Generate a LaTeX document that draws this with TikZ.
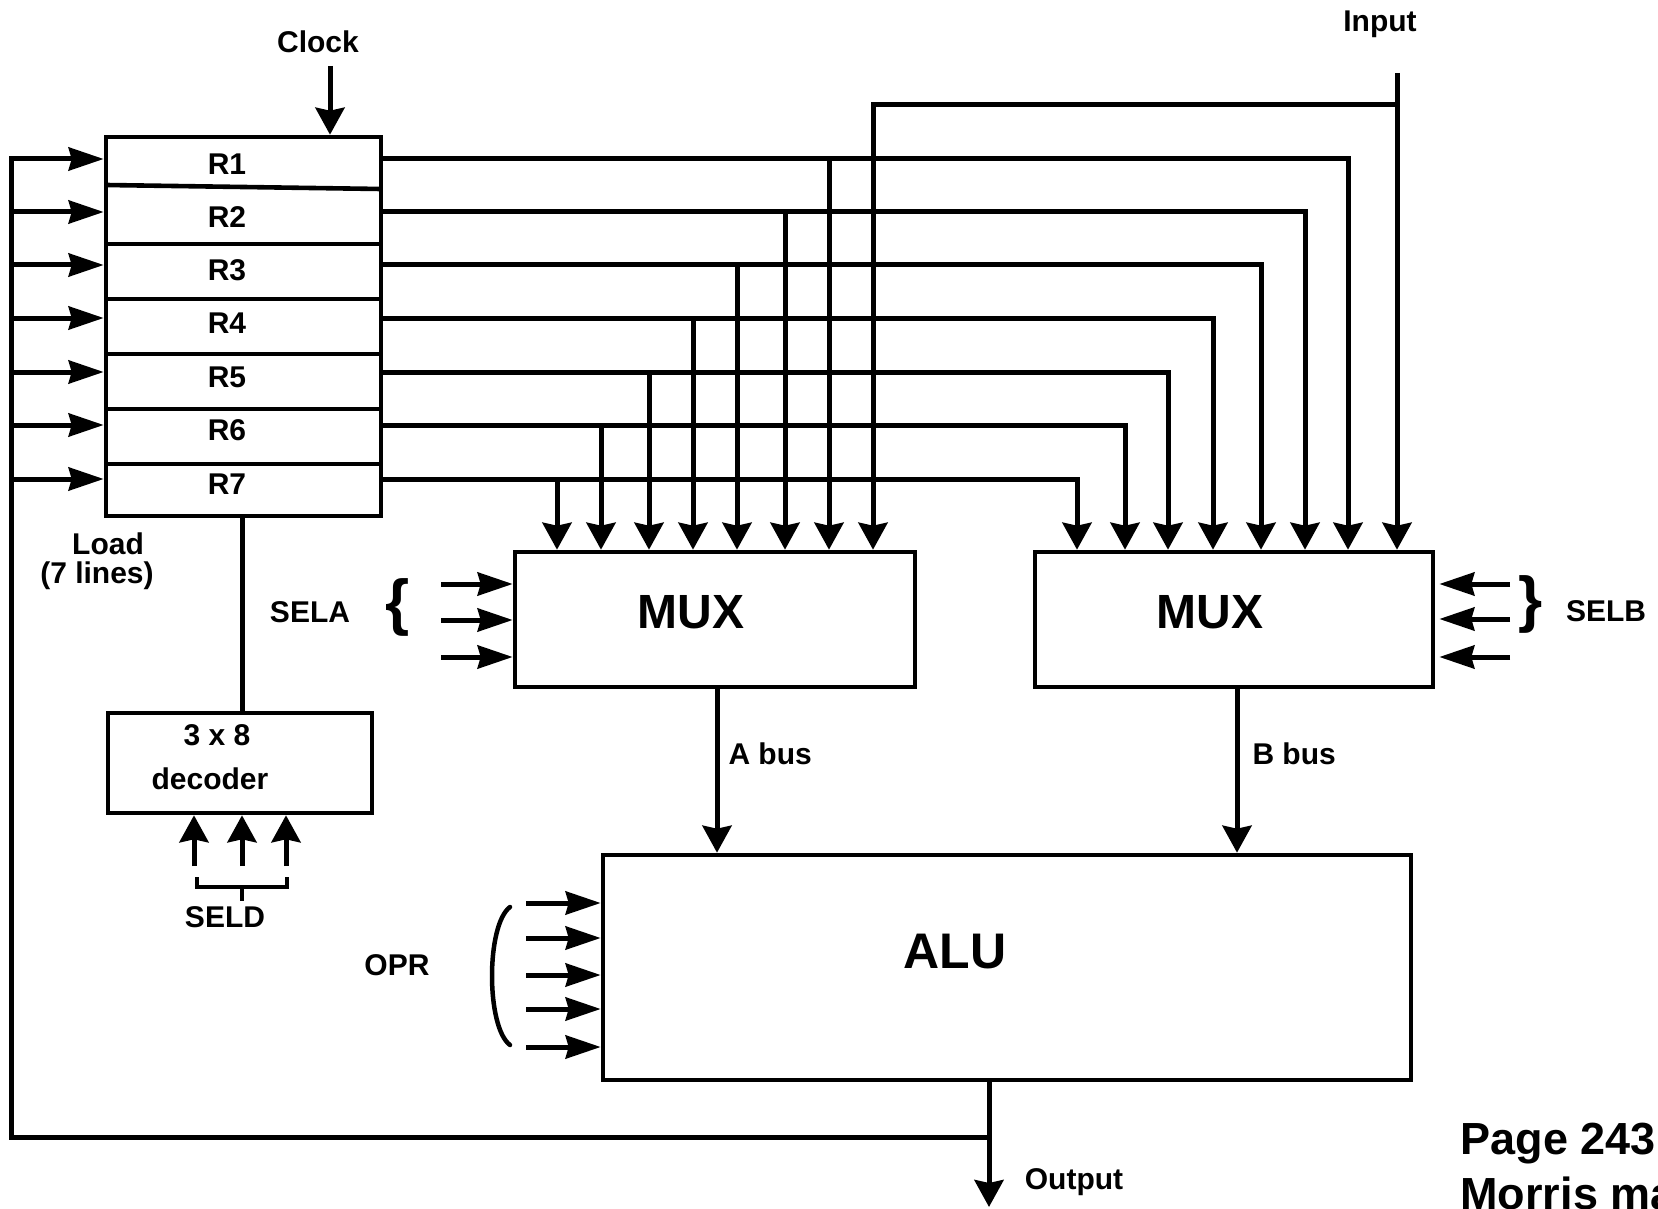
\documentclass[tikz,border=0pt]{standalone}
\usepackage{fontspec}
\setmainfont{Liberation Sans}
\usetikzlibrary{arrows.meta}
\begin{document}
\begin{tikzpicture}[x=1pt,y=-1pt,line width=5pt,
  varr/.style={-{Stealth[length=27pt,width=29pt,inset=3pt]}},
  harr/.style={-{Stealth[length=35pt,width=23pt,inset=3pt]}},
  box/.style={draw,rectangle,line width=4.6pt,inner sep=0pt},
  lbl/.style={font=\fontsize{30}{32}\selectfont\bfseries,inner sep=0pt,align=center},
  big/.style={font=\fontsize{48}{52}\selectfont\bfseries,inner sep=0pt},
  brc/.style={line width=4.5pt}]
\useasboundingbox (0,0) rectangle (1658,1209);
\fill[white] (0,0) rectangle (1658,1209);

% boxes
\node[box,minimum width=275pt,minimum height=379pt] (reg) at (243.5,326.5) {};
\node[box,minimum width=264pt,minimum height=100pt] (dec) at (240,763) {};
\node[box,minimum width=400pt,minimum height=135pt] (muxa) at (715,619.5) {};
\node[box,minimum width=398pt,minimum height=135pt] (muxb) at (1234,619.5) {};
\node[box,minimum width=808pt,minimum height=225pt] (alu) at (1007,967.5) {};

% register separators
\draw[line width=4.6pt] (106,185) -- (381,189);
\foreach \y in {244,299,354,409,464} \draw[line width=4.6pt] (106,\y) -- (381,\y);

% register labels
\foreach \i/\y in {1/159,2/212,3/265,4/318,5/372,6/425,7/479}
  \node[lbl] (rl\i) at (227,\y+5) {R\i};

% box labels
\node[lbl] (dec3) at (217,735) {3 x 8};
\node[lbl] (decl) at (210,779) {decoder};
\node[big] (muxal) at (691,612) {MUX};
\node[big] (muxbl) at (1210,612) {MUX};
\node[font=\fontsize{50}{54}\selectfont\bfseries,inner sep=0pt] (alul) at (955,952) {ALU};

% register outputs to both multiplexers
\foreach \i/\y/\xa/\xb in {1/159/829/1348,2/212/785/1305,3/265/737/1261,4/318/693/1213,5/372/649/1168,6/425/601/1125,7/479/557/1077}{
  \coordinate (ra\i) at (\xa,\y);
  \coordinate (rb\i) at (\xb,\y);
  \draw[varr] (reg.east |- rb\i) -- (rb\i) -- (rb\i |- muxb.north);
  \draw[varr] (ra\i) -- (ra\i |- muxa.north);
}

% input
\coordinate (inp) at (1397,73);
\coordinate (inpj) at (1397,105);
\coordinate (inpa) at (873,105);
\draw[varr] (inp) -- (inp |- muxb.north);
\draw[varr] (inpj) -- (inpa) -- (inpa |- muxa.north);
\node[lbl] (inpl) at (1380,24) {Input};

% clock
\coordinate (clk) at (330,66);
\draw[varr] (clk) -- (clk |- reg.north);
\node[lbl] (clkl) at (318,42) {Clock};

% load lines and feedback
\coordinate (fbtop) at (11,159);
\coordinate (fbcorner) at (11,1137);
\coordinate (outj) at (989,1137);
\coordinate (outend) at (989,1207);
\draw (outj) -- (fbcorner) -- (fbtop);
\foreach \i/\y in {1/159,2/212,3/265,4/318,5/372,6/425,7/479}{
  \coordinate (ld\i) at (9,\y);
  \draw[harr] (ld\i) -- (reg.west |- ld\i);
}
\node[lbl] (loadl) at (108,544) {Load};
\node[lbl] (loadl2) at (97,576) {(7 lines)};

% output
\draw[varr] (alu.south -| outj) -- (outend);
\node[lbl] (outl) at (1074,1182) {Output};

% decoder
\coordinate (decx) at (242,600);
\draw (reg.south -| decx) -- (dec.north -| decx);
\foreach \i/\x in {1/194,2/242,3/286}{
  \coordinate (sd\i) at (\x,866);
  \draw[varr] (sd\i) -- (sd\i |- dec.south);
}
\draw[brc] (197,877) -- (197,887) -- (287,887) -- (287,877);
\draw[brc] (242,887) -- (242,901);
\node[lbl] (seldl) at (225,917) {SELD};

% SELA
\foreach \i/\y in {1/584,2/620,3/657}{
  \coordinate (sa\i) at (441,\y);
  \draw[harr] (sa\i) -- (muxa.west |- sa\i);
}
\node[font=\fontsize{62}{64}\selectfont\bfseries,inner sep=0pt] (bra) at (398,607) {\{};
\node[lbl] (selal) at (310,612) {SELA};

% SELB
\foreach \i/\y in {1/584,2/619,3/657}{
  \coordinate (sb\i) at (1510,\y);
  \draw[harr] (sb\i) -- ([xshift=4pt]muxb.east |- sb\i);
}
\node[font=\fontsize{62}{64}\selectfont\bfseries,inner sep=0pt] (brb) at (1531,604) {\}};
\node[lbl] (selbl) at (1606,611) {SELB};

% buses
\coordinate (abus) at (717,700);
\coordinate (bbus) at (1237,700);
\draw[varr] (muxa.south -| abus) -- (alu.north -| abus);
\draw[varr] (muxb.south -| bbus) -- (alu.north -| bbus);
\node[lbl,anchor=west] (abusl) at (726,754) {A bus};
\node[lbl,anchor=west] (bbusl) at (1250,754) {B bus};

% OPR
\foreach \i/\y in {1/903,2/938,3/975,4/1009,5/1047}{
  \coordinate (op\i) at (526,\y);
  \draw[harr] (op\i) -- (alu.west |- op\i);
}
\draw[brc,line cap=round] (510,907) .. controls (486,925) and (486,1027) .. (510,1045);
\node[lbl] (oprl) at (397,965) {OPR};

% page note
\node[font=\fontsize{45}{55}\selectfont\bfseries,inner sep=0pt,anchor=north west,align=left] (page) at (1458,1121) {Page 243\\Morris mano};
\end{tikzpicture}
\end{document}
